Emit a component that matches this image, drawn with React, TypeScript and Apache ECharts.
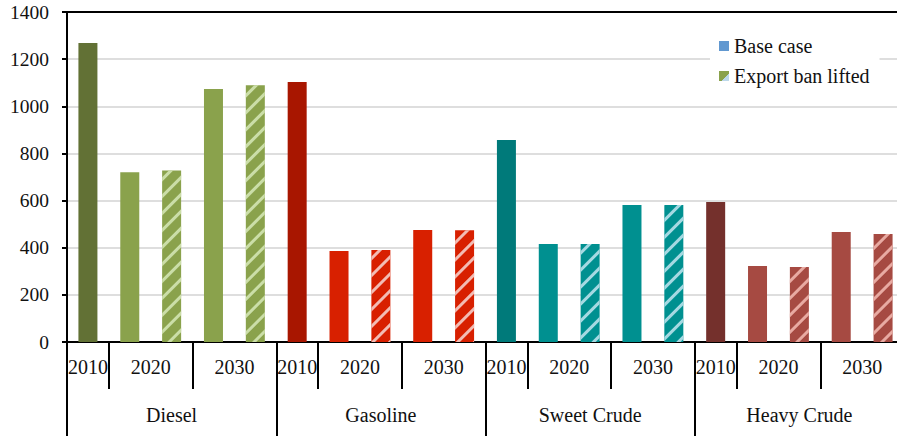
import React, { useEffect, useRef } from "react";
import * as echarts from "echarts";

const groups = ["Diesel", "Gasoline", "Sweet Crude", "Heavy Crude"];
const yearLabels = ["2010", "2020", "2030"];
const value2010 = [1268, 1103, 857, 594];
const base2020 = [720, 386, 416, 322];
const lifted2020 = [728, 390, 416, 318];
const base2030 = [1073, 475, 581, 467];
const lifted2030 = [1089, 474, 581, 458];
const yTicks = [0, 200, 400, 600, 800, 1000, 1200, 1400];

const darkColors = ["#627135", "#a81600", "#007a7a", "#74302c"];
const baseColors = ["#8aa24c", "#d82000", "#009090", "#a64a42"];
const hatchColors = ["#cbdea8", "#f2bcb4", "#a6d9e2", "#e8aaa2"];

const FONT = "Liberation Serif";

export default function App() {
  const ref = useRef<HTMLDivElement>(null);
  useEffect(() => {
    if (!ref.current) return;
    const chart = echarts.init(ref.current, null, { renderer: "svg" });

    // 20 slots: per group 2010, 2020 base, 2020 lifted, 2030 base, 2030 lifted
    const slots: string[] = [];
    const baseData: any[] = [];
    const liftedData: any[] = [];
    groups.forEach((g, gi) => {
      slots.push(g + " 2010", g + " 2020 base", g + " 2020 lifted", g + " 2030 base", g + " 2030 lifted");
      baseData.push({ value: value2010[gi], itemStyle: { color: darkColors[gi] } });
      baseData.push({ value: base2020[gi], itemStyle: { color: baseColors[gi] } });
      baseData.push("-");
      baseData.push({ value: base2030[gi], itemStyle: { color: baseColors[gi] } });
      baseData.push("-");
      const decal = {
        symbol: "rect",
        symbolSize: 1,
        color: hatchColors[gi],
        dashArrayX: [1, 0],
        dashArrayY: [3, 8.3],
        rotation: -Math.PI / 4,
      };
      liftedData.push("-", "-");
      liftedData.push({ value: lifted2020[gi], itemStyle: { color: baseColors[gi], decal } });
      liftedData.push("-");
      liftedData.push({ value: lifted2030[gi], itemStyle: { color: baseColors[gi], decal } });
    });

    // half-slot points axis (41 points) for the multi-level labels
    const yearAxisData: string[] = [];
    const groupAxisData: string[] = [];
    for (let i = 0; i <= 40; i++) {
      const k = i % 10;
      yearAxisData.push(i < 40 && k === 1 ? yearLabels[0] : i < 40 && k === 4 ? yearLabels[1] : i < 40 && k === 8 ? yearLabels[2] : "");
      groupAxisData.push(i < 40 && k === 5 ? groups[Math.floor(i / 10)] : "");
    }
    const yearLabelIdx = (i: number) => i < 40 && [1, 4, 8].includes(i % 10);
    const yearTickIdx = (i: number) => i === 40 || [0, 2, 6].includes(i % 10);

    const legendGreen = {
      type: "linear",
      x: 0,
      y: 0,
      x2: 1,
      y2: 1,
      colorStops: [
        { offset: 0, color: "#8aa24c" },
        { offset: 0.62, color: "#8aa24c" },
        { offset: 0.62, color: "#bcd8ea" },
        { offset: 1, color: "#bcd8ea" },
      ],
    };

    chart.setOption({
      animation: false,
      grid: { left: 67, right: 0, top: 12, bottom: 94, containLabel: false },
      legend: {
        orient: "vertical",
        left: 710,
        top: 30,
        padding: [6, 10, 8, 9],
        backgroundColor: "#ffffff",
        itemWidth: 10,
        itemHeight: 10,
        itemGap: 10,
        textStyle: { fontFamily: FONT, fontSize: 20, color: "#111" },
        data: [
          { name: "Base case", icon: "rect", itemStyle: { color: "#6198d0" } },
          { name: "Export ban lifted", icon: "rect", itemStyle: { color: legendGreen } },
        ],
      },
      xAxis: [
        {
          type: "category",
          data: slots,
          position: "bottom",
          axisLine: { show: true, lineStyle: { color: "#000", width: 2 } },
          axisTick: { show: false },
          axisLabel: { show: false },
          splitLine: { show: false },
        },
        {
          type: "category",
          data: yearAxisData,
          position: "bottom",
          boundaryGap: false,
          axisLine: { show: false },
          axisTick: {
            show: true,
            length: 47,
            interval: (i: number) => yearTickIdx(i),
            lineStyle: { color: "#000", width: 2 },
          },
          axisLabel: {
            show: true,
            interval: (i: number) => yearLabelIdx(i),
            margin: 15,
            fontFamily: FONT,
            fontSize: 20,
            color: "#111",
          },
          splitLine: { show: false },
        },
        {
          type: "category",
          data: groupAxisData,
          position: "bottom",
          boundaryGap: false,
          axisLine: { show: false },
          axisTick: {
            show: true,
            length: 96,
            interval: (i: number) => i % 10 === 0,
            lineStyle: { color: "#000", width: 2 },
          },
          axisLabel: {
            show: true,
            interval: (i: number) => i % 10 === 5,
            margin: 63,
            fontFamily: FONT,
            fontSize: 20,
            color: "#111",
          },
          splitLine: { show: false },
        },
        {
          type: "category",
          data: slots,
          position: "top",
          axisLine: { show: true, lineStyle: { color: "#000", width: 2 } },
          axisTick: { show: false },
          axisLabel: { show: false },
          splitLine: { show: false },
        },
      ],
      yAxis: {
        type: "value",
        min: yTicks[0],
        max: yTicks[yTicks.length - 1],
        interval: 200,
        axisLine: { show: true, lineStyle: { color: "#000", width: 2 } },
        axisTick: { show: true, length: 5, lineStyle: { color: "#000", width: 2 } },
        axisLabel: {
          margin: 18,
          fontFamily: FONT,
          fontSize: 19.5,
          color: "#111",
          formatter: (v: number) => String(v),
        },
        splitLine: { show: true, lineStyle: { color: "#dedede", width: 2 } },
      },
      series: [
        {
          name: "Base case",
          type: "bar",
          xAxisIndex: 0,
          barWidth: 19,
          barGap: "-100%",
          itemStyle: { color: "#6198d0" },
          data: baseData,
        },
        {
          name: "Export ban lifted",
          type: "bar",
          xAxisIndex: 0,
          barWidth: 19,
          barGap: "-100%",
          itemStyle: { color: "#8aa24c" },
          data: liftedData,
        },
      ],
    });
    return () => chart.dispose();
  }, []);
  return (
    <div
      ref={ref}
      style={{ position: "fixed", left: 0, top: 0, width: 904, height: 436, background: "#fff" }}
    />
  );
}
